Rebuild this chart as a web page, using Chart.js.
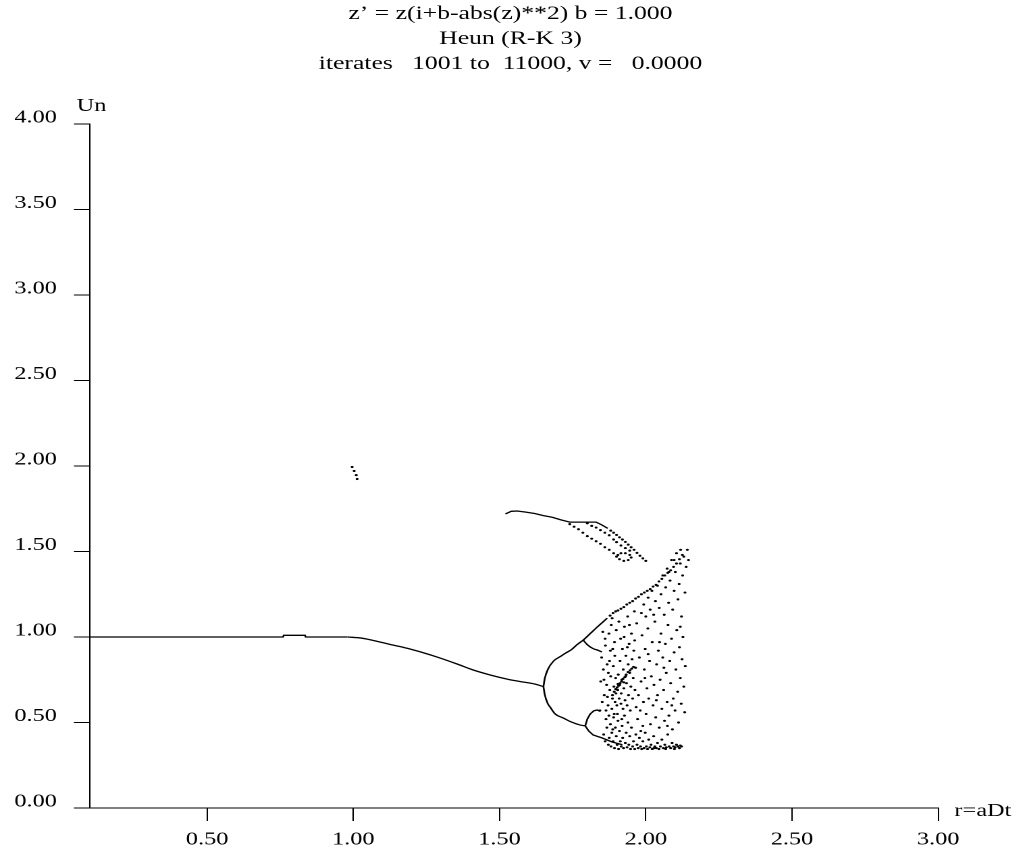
<!DOCTYPE html>
<html>
<head>
<meta charset="utf-8">
<title>Heun (R-K 3) bifurcation</title>
<script src="https://cdn.jsdelivr.net/npm/chart.js@4.4.1/dist/chart.umd.min.js"></script>
<style>
  html, body { margin: 0; padding: 0; background: #fff; overflow: hidden; }
  /* plot is laid out at 762px and widened to the full 1029px page */
  #wrap {
    position: absolute; left: 0; top: 0;
    width: 762px; height: 859px;
    transform: scaleX(1.3504); transform-origin: 0 0;
  }
</style>
</head>
<body>
<div id="wrap"><canvas id="bifurcation"></canvas></div>
<script>
// Axis ticks
const xTicks = [0.5, 1.0, 1.5, 2.0, 2.5, 3.0];
const yTicks = [0, 0.5, 1.0, 1.5, 2.0, 2.5, 3.0, 3.5, 4.0];

const titleLines = [
  "z\u2019 = z(i+b-abs(z)**2) b = 1.000",
  "Heun (R-K 3)",
  "iterates   1001 to  11000, v =   0.0000"
];
const xAxisName = 'r=aDt';
const yAxisName = 'Un';

// Single fixed point: flat stretch, then the slow decline to the split
const mainFlat = [
  [0.10, 1.00], [0.76, 1.00], [0.762, 1.01], [0.835, 1.01], [0.837, 1.00], [0.98, 1.00]
];
const mainDecline = [
  [0.98, 1.00], [1.03, 0.993], [1.08, 0.975], [1.13, 0.955], [1.184, 0.934],
  [1.235, 0.91], [1.297, 0.877], [1.355, 0.842], [1.41, 0.807], [1.468, 0.778],
  [1.526, 0.754], [1.58, 0.737], [1.62, 0.725], [1.65, 0.71]
];

// Period-two branches after the split
const upperBranch = [
  [1.65, 0.71], [1.655, 0.76], [1.665, 0.81], [1.685, 0.86], [1.707, 0.885],
  [1.725, 0.905], [1.745, 0.925], [1.765, 0.955], [1.786, 0.982], [1.81, 1.02],
  [1.835, 1.06], [1.868, 1.11]
];
const upperBranchDots = [
  [1.878, 1.125], [1.888, 1.14], [1.897, 1.15], [1.905, 1.155], [1.915, 1.165],
  [1.925, 1.175], [1.935, 1.19], [1.945, 1.20], [1.955, 1.21], [1.965, 1.225],
  [1.975, 1.235], [1.985, 1.25], [1.995, 1.26], [2.005, 1.27], [2.015, 1.28],
  [2.025, 1.295], [2.035, 1.305], [2.045, 1.325], [2.055, 1.34], [2.065, 1.36],
  [2.075, 1.375], [2.085, 1.39], [2.095, 1.41], [2.105, 1.43], [2.115, 1.455],
  [2.125, 1.48]
];
const upperSpur = [[1.786, 0.982], [1.80, 0.955], [1.82, 0.932], [1.834, 0.924], [1.85, 0.912]];
const lowerBranch = [
  [1.65, 0.71], [1.655, 0.66], [1.665, 0.61], [1.673, 0.59], [1.69, 0.55],
  [1.718, 0.526], [1.745, 0.503], [1.776, 0.485], [1.793, 0.48]
];
const lowerSpurUp = [[1.793, 0.48], [1.80, 0.52], [1.81, 0.55], [1.822, 0.568], [1.834, 0.573], [1.845, 0.565]];
const lowerSpurDown = [[1.793, 0.48], [1.805, 0.45], [1.82, 0.427], [1.85, 0.41], [1.885, 0.386], [1.92, 0.37]];

// Separate arc above the cloud
const arcTop = [
  [1.52, 1.72], [1.54, 1.735], [1.56, 1.737], [1.59, 1.73], [1.62, 1.722],
  [1.65, 1.71], [1.68, 1.70], [1.71, 1.685], [1.74, 1.672], [1.77, 1.672],
  [1.80, 1.672], [1.83, 1.672], [1.85, 1.655], [1.87, 1.635]
];
const arcStrands = [
  [1.88, 1.622], [1.89, 1.61], [1.90, 1.597], [1.91, 1.583], [1.92, 1.57],
  [1.93, 1.556], [1.94, 1.54], [1.95, 1.525], [1.96, 1.51], [1.97, 1.492],
  [1.98, 1.475], [1.99, 1.46], [2.00, 1.445],
  [1.74, 1.66], [1.755, 1.645], [1.77, 1.63], [1.785, 1.61], [1.80, 1.59],
  [1.815, 1.575], [1.83, 1.56], [1.845, 1.545], [1.86, 1.525], [1.875, 1.51],
  [1.89, 1.49], [1.90, 1.47], [1.91, 1.455], [1.925, 1.445], [1.94, 1.45],
  [1.95, 1.465], [1.945, 1.48], [1.93, 1.49], [1.915, 1.49], [1.905, 1.48],
  [1.80, 1.665], [1.815, 1.65], [1.83, 1.64], [1.845, 1.625], [1.86, 1.61],
  [1.875, 1.595], [1.89, 1.57], [1.90, 1.555], [1.915, 1.535], [1.93, 1.52],
  [1.945, 1.505]
];

// A few stray iterates near r = 1
const strayPoints = [[0.996, 1.994], [1.003, 1.971], [1.01, 1.947], [1.013, 1.924]];

// Chaotic band, left part above the lower loops
const cloudLeft = [
  [1.843,0.57],[1.851,0.62],[1.846,0.74],[1.858,0.66],[1.855,0.81],[1.862,0.95],[1.849,0.88],
  [1.866,0.72],[1.871,0.60],[1.868,0.84],[1.874,1.02],[1.877,0.69],[1.880,0.77],[1.879,0.92],
  [1.884,0.58],[1.886,0.64],[1.882,1.07],[1.889,0.83],[1.891,0.71],[1.893,0.97],[1.895,0.62],
  [1.897,0.76],[1.894,0.89],[1.899,1.04],[1.861,0.99],[1.853,1.03],[1.872,0.79],[1.864,0.57],
  [1.887,0.93],[1.876,0.86],[1.869,0.65],[1.857,0.75],[1.898,0.67],[1.885,1.11],[1.892,0.55]
];
// Dense floor of the band
const cloudFloor = [
  [1.856,0.43],[1.861,0.39],[1.867,0.47],[1.864,0.52],[1.872,0.37],[1.875,0.41],[1.879,0.49],
  [1.881,0.36],[1.884,0.44],[1.888,0.39],[1.890,0.53],[1.893,0.35],[1.896,0.47],[1.899,0.42],
  [1.902,0.37],[1.905,0.51],[1.907,0.345],[1.910,0.45],[1.913,0.39],[1.916,0.36],[1.919,0.48],
  [1.921,0.41],[1.924,0.35],[1.927,0.54],[1.930,0.38],[1.933,0.44],[1.936,0.355],[1.939,0.50],
  [1.942,0.37],[1.945,0.42],[1.948,0.345],[1.951,0.47],[1.903,0.55],[1.918,0.52],[1.887,0.46],
  [1.874,0.54],
  [1.955,0.36],[1.958,0.39],[1.962,0.345],[1.966,0.43],[1.970,0.37],[1.974,0.35],[1.978,0.41],
  [1.982,0.36],[1.986,0.345],[1.990,0.39],[1.994,0.35],[1.998,0.44],[2.002,0.36],[2.006,0.345],
  [2.010,0.40],[2.014,0.355],[2.018,0.37],[2.022,0.345],[2.027,0.42],[2.031,0.36],[2.036,0.35],
  [2.040,0.38],[2.045,0.345],[2.050,0.36],[2.055,0.40],[2.060,0.35],[2.065,0.37],[2.070,0.355],
  [2.075,0.43],[2.080,0.36],[2.085,0.35],[2.090,0.38],[2.095,0.36],[2.100,0.355],[2.105,0.37],
  [2.110,0.36],[2.115,0.35],[2.118,0.365],[2.122,0.36],[2.098,0.345],[2.068,0.345],[2.028,0.35]
];
// Dark middle of the band with its diagonal streak
const cloudCore = [
  [1.901,0.60],[1.904,0.69],[1.906,0.78],[1.909,0.64],[1.911,0.72],[1.912,0.86],[1.914,0.99],
  [1.916,0.67],[1.918,0.75],[1.920,0.93],[1.922,0.58],[1.923,0.81],[1.925,0.70],[1.927,1.06],
  [1.929,0.63],[1.931,0.77],[1.932,0.89],[1.934,0.73],[1.936,0.60],[1.938,1.12],[1.940,0.84],
  [1.941,0.66],[1.943,0.96],[1.945,0.79],[1.947,0.57],[1.949,0.71],[1.951,1.02],[1.953,0.87],
  [1.955,0.64],[1.957,0.76],[1.959,0.92],[1.961,1.15],[1.963,0.69],[1.965,0.82],[1.967,0.59],
  [1.969,1.08],[1.908,1.09],[1.926,1.00],[1.944,1.07],[1.962,0.98],[1.915,0.61],[1.937,0.94],
  [1.886,0.66],[1.892,0.68],[1.897,0.695],[1.902,0.705],[1.907,0.715],[1.912,0.73],[1.917,0.74],
  [1.922,0.755],[1.928,0.765],[1.933,0.78],[1.939,0.795],[1.946,0.805],[1.952,0.815],[1.958,0.825],
  [1.905,0.725],[1.925,0.735]
];
// Sparser right half of the band
const cloudRight = [
  [1.972,0.52],[1.975,0.66],[1.978,0.88],[1.981,0.57],[1.984,0.74],[1.987,1.01],[1.990,0.48],
  [1.992,0.62],[1.995,0.81],[1.998,0.93],[2.001,0.55],[2.004,0.70],[2.007,1.05],[2.010,0.64],
  [2.013,0.86],[2.016,0.49],[2.019,0.77],[2.022,0.97],[2.025,0.60],[2.028,0.72],[2.031,1.09],
  [2.034,0.53],[2.037,0.84],[2.040,0.66],[2.043,0.92],[2.046,0.47],[2.049,0.75],[2.052,1.02],
  [2.055,0.58],[2.058,0.88],[2.061,0.69],[2.064,0.51],[2.067,0.96],[2.070,0.79],[2.073,0.62],
  [2.076,1.07],[2.079,0.54],[2.082,0.86],[2.085,0.73],[2.088,0.99],[2.091,0.46],[2.094,0.64],
  [2.097,0.91],[2.100,0.57],[2.103,0.81],[2.106,1.04],[2.109,0.68],[2.112,0.50],[2.115,0.94],
  [2.118,0.76],[2.121,0.61],[2.124,0.87],[2.127,1.00],[2.130,0.71],[2.133,0.56],[2.135,0.83],
  [1.983,0.45],[2.008,0.90],[2.036,0.63],[2.062,0.82],[2.089,0.60],[2.118,1.06],[1.997,0.76],
  [2.047,0.97],[2.074,0.48]
];
// Narrow cone at the top of the band
const cloudCone = [
  [1.985,1.14],[1.993,1.19],[2.000,1.12],[2.008,1.23],[2.015,1.16],[2.021,1.27],[2.027,1.13],
  [2.033,1.21],[2.040,1.30],[2.046,1.17],[2.052,1.25],[2.058,1.36],[2.063,1.13],[2.068,1.29],
  [2.073,1.40],[2.078,1.20],[2.083,1.33],[2.088,1.45],[2.092,1.16],[2.097,1.27],[2.101,1.38],
  [2.105,1.49],[2.110,1.22],[2.114,1.31],[2.118,1.43],[2.122,1.12],[2.126,1.36],[2.130,1.47],
  [2.134,1.26],[2.138,1.41],[2.142,1.51],[2.146,1.45],[2.119,1.51],[2.097,1.45],[2.079,1.38]
];

const INK = '#000';
const FONT = '"Liberation Serif", "Times New Roman", serif';

function toXY(list) {
  return list.map(p => ({ x: p[0], y: p[1] }));
}

function curve(list, smooth) {
  const ds = {
    data: toXY(list), showLine: true, borderColor: INK, borderWidth: 1.3,
    pointRadius: 0, tension: 0
  };
  if (smooth) ds.cubicInterpolationMode = 'monotone';
  return ds;
}

function dots(list) {
  return {
    data: toXY(list), showLine: false, backgroundColor: INK, borderWidth: 0,
    pointRadius: 1.1, pointHoverRadius: 1.1
  };
}

// Titles and axis names
const plotText = {
  id: 'plotText',
  afterDraw(chart) {
    const { ctx, chartArea } = chart;
    ctx.save();
    ctx.fillStyle = INK;
    ctx.textBaseline = 'alphabetic';
    ctx.textAlign = 'center';
    ctx.font = '19px ' + FONT;
    const baselines = [19, 44, 69];
    titleLines.forEach((line, i) => ctx.fillText(line, 378, baselines[i]));
    ctx.font = '18px ' + FONT;
    ctx.fillText(yAxisName, chartArea.left + 1, 111);
    ctx.textAlign = 'left';
    ctx.fillText(xAxisName, chartArea.right + 12, 816);
    ctx.restore();
  }
};

new Chart(document.getElementById('bifurcation'), {
  type: 'scatter',
  data: {
    datasets: [
      curve(mainFlat),
      curve(mainDecline, true),
      curve(upperBranch, true),
      curve(upperSpur, true),
      curve(lowerBranch, true),
      curve(lowerSpurUp),
      curve(lowerSpurDown),
      curve(arcTop),
      dots(upperBranchDots),
      dots(arcStrands),
      dots(strayPoints),
      dots(cloudLeft),
      dots(cloudFloor),
      dots(cloudCore),
      dots(cloudRight),
      dots(cloudCone)
    ]
  },
  options: {
    responsive: true,
    maintainAspectRatio: false,
    animation: false,
    devicePixelRatio: 2,
    layout: { padding: { left: 0, right: 67.2, top: 124, bottom: 11 } },
    plugins: {
      legend: { display: false },
      tooltip: { enabled: false },
      title: { display: false }
    },
    scales: {
      x: {
        type: 'linear',
        min: 0.1,
        max: 3.0,
        afterBuildTicks: s => { s.ticks = xTicks.map(v => ({ value: v })); },
        afterFit: s => { s.height = 40; },
        ticks: {
          callback: v => Number(v).toFixed(2),
          color: INK,
          font: { family: FONT, size: 18 },
          padding: 8,
          maxRotation: 0,
          autoSkip: false
        },
        grid: { drawOnChartArea: false, drawTicks: true, tickLength: 13, color: INK, lineWidth: 1 },
        border: { display: true, color: INK, width: 1 }
      },
      y: {
        type: 'linear',
        min: 0,
        max: 4.0,
        afterBuildTicks: s => { s.ticks = yTicks.map(v => ({ value: v })); },
        afterFit: s => { s.width = 66.7; },
        ticks: {
          callback: v => Number(v).toFixed(2),
          color: INK,
          font: { family: FONT, size: 18 },
          padding: 12.6,
          labelOffset: -6,
          autoSkip: false
        },
        grid: { drawOnChartArea: false, drawTicks: true, tickLength: 12, color: INK, lineWidth: 1 },
        border: { display: true, color: INK, width: 1 }
      }
    }
  },
  plugins: [plotText]
});
</script>
</body>
</html>
